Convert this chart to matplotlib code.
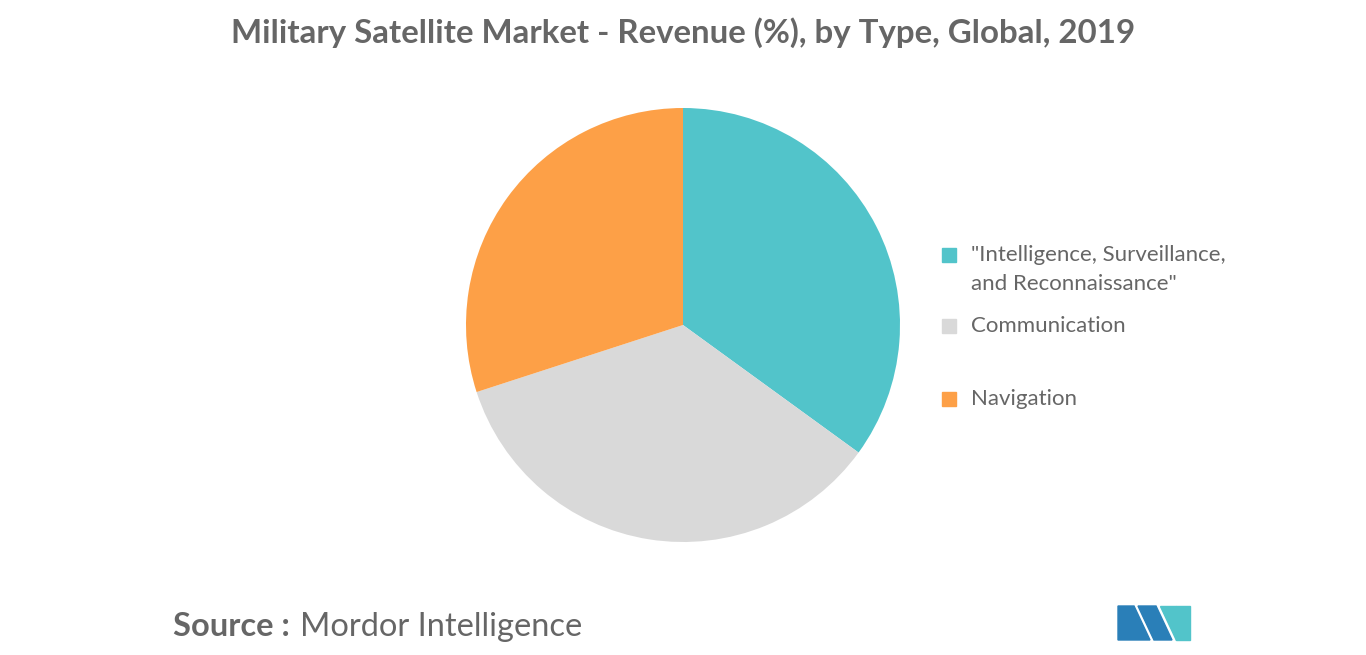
import matplotlib.pyplot as plt
from matplotlib.patches import Polygon

labels = ['"Intelligence, Surveillance,\nand Reconnaissance"', 'Communication', 'Navigation']
values = [35, 35, 30]
colors = ['#52c4ca', '#d9d9d9', '#fda047']

fig = plt.figure(figsize=(13.66, 6.55), dpi=100)
ax = fig.add_axes([683/1366 - 217/1366, (655-542)/655, 434/1366, 434/655])
ax.pie(values, colors=colors, startangle=90, counterclock=False)
ax.set_xlim(-1, 1)
ax.set_ylim(-1, 1)
ax.set_aspect('equal')

fig.text(0.5, 1 - 33/655, 'Military Satellite Market - Revenue (%), by Type, Global, 2019',
         ha='center', va='center', fontsize=23.8, color='#666666', fontweight='bold', family='Lato')

ys = [255, 326, 399]
for lab, c, y in zip(labels, colors, ys):
    fig.patches.append(plt.Rectangle((942/1366, 1 - (y+7)/655), 14/1366, 14/655,
                                     transform=fig.transFigure, color=c))
    fig.text(971/1366, 1 - y/655, lab.split('\n')[0], va='center', fontsize=16,
             color='#666666', family='Lato')
    if '\n' in lab:
        fig.text(971/1366, 1 - (y+29)/655, lab.split('\n')[1], va='center', fontsize=16,
                 color='#666666', family='Lato')

fig.text(173/1366, 1 - 627/655, 'Source :', va='center', fontsize=23.5, color='#666666',
         fontweight='bold', family='Lato')
fig.text(300/1366, 1 - 627/655, 'Mordor Intelligence', va='center', fontsize=23.5,
         color='#666666', family='Lato')

# logo
def poly(pts, c):
    fig.patches.append(Polygon([(x/1366, 1 - y/655) for x, y in pts], closed=True,
                               transform=fig.transFigure, color=c))
poly([(1118, 640), (1118, 606), (1134, 606), (1150, 640)], '#2a7fb8')
poly([(1138, 606), (1156, 606), (1172, 640), (1154, 640)], '#2a7fb8')
poly([(1160, 606), (1176, 606), (1176, 640)], '#52c4ca')
poly([(1176, 606), (1190, 606), (1190, 640), (1176, 640)], '#52c4ca')

fig.savefig('out.png', dpi=100)
